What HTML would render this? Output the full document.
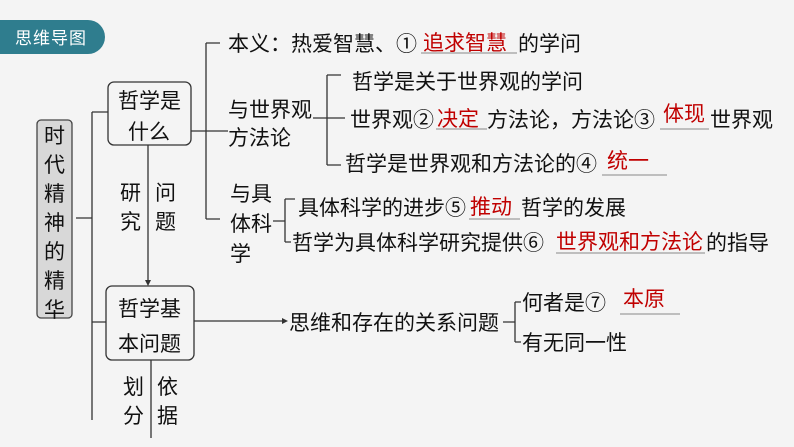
<!DOCTYPE html>
<html><head><meta charset="utf-8"><style>
html,body{margin:0;padding:0;background:#f4f4f4;}
svg{display:block;font-family:"Liberation Sans","Noto Sans CJK SC",sans-serif;}
.t{font-size:21px;fill:#111;}
.r{fill:#c00000;}
</style></head><body>
<svg width="794" height="447" viewBox="0 0 794 447">
<rect width="794" height="447" fill="#f4f4f4"/>
<path d="M0 20 H88 A17 17 0 0 1 88 54 H0 Z" fill="#2f7d8e"/>
<text x="15" y="44" font-size="17" fill="#fff" letter-spacing="1">思维导图</text>
<g stroke="#333" stroke-width="1.3" fill="none">
<rect x="37" y="120" width="35" height="198" rx="4" fill="#d8d8d8" stroke="#444"/>
<rect x="108" y="82" width="83" height="63" rx="6"/>
<rect x="106" y="286" width="88" height="74" rx="6"/>
<path d="M76 218 H92 M92 112 V420 M92 112 H108 M92 322 H106"/>
<path d="M148 145 V282"/>
<path d="M151 360 V438"/>
<path d="M191 131 H228 M206 43 V219 M206 43 H220 M206 219 H220"/>
<path d="M313 118 H345 M327 75 V165 M327 75 H341 M327 165 H341"/>
<path d="M273 221 H285 M285 199 V242 M285 199 H295 M285 242 H291"/>
<path d="M194 321 H283"/>
<path d="M503 322 H515 M515 302 V342 M515 302 H521 M515 342 H521"/>
</g>
<path d="M148 286 l-3 -6 h6 z M288 321 l-6 -3 v6 z" fill="#333"/>
<g class="t" font-size="22">
<text x="44" y="143">时</text><text x="44" y="172">代</text><text x="44" y="201">精</text><text x="44" y="230">神</text><text x="44" y="259">的</text><text x="44" y="288">精</text><text x="44" y="317">华</text>
<text x="118" y="108">哲学是</text><text x="128" y="139">什么</text>
<text x="118" y="316">哲学基</text><text x="118" y="351">本问题</text>
</g>
<g class="t" font-size="20">
<text x="120" y="200">研</text><text x="120" y="229">究</text>
<text x="155" y="200">问</text><text x="155" y="229">题</text>
<text x="123" y="394">划</text><text x="123" y="423">分</text>
<text x="157" y="394">依</text><text x="157" y="423">据</text>
</g>
<g class="t">
<text x="228" y="51">本义：热爱智慧、①</text>
<text x="423" y="50" class="r">追求智慧</text>
<text x="518" y="51">的学问</text>
<text x="228" y="117">与世界观</text><text x="228" y="145">方法论</text>
<text x="352" y="89">哲学是关于世界观的学问</text>
<text x="350" y="127">世界观②</text><text x="437" y="126" class="r">决定</text><text x="487" y="127">方法论，方法论③</text><text x="663" y="121" class="r">体现</text><text x="710" y="127">世界观</text>
<text x="345" y="171">哲学是世界观和方法论的④</text><text x="607" y="168" class="r">统一</text>
<text x="230" y="201">与具</text><text x="230" y="231">体科</text><text x="230" y="261">学</text>
<text x="298" y="215">具体科学的进步⑤</text><text x="470" y="214" class="r">推动</text><text x="521" y="215">哲学的发展</text>
<text x="292" y="250">哲学为具体科学研究提供⑥</text><text x="556" y="249" class="r">世界观和方法论</text><text x="706" y="250">的指导</text>
<text x="289" y="330">思维和存在的关系问题</text>
<text x="522" y="310">何者是⑦</text><text x="623" y="306" class="r">本原</text>
<text x="522" y="350">有无同一性</text>
</g>
<g stroke="#888" stroke-width="1">
<path d="M421 53 H517 M436 129 H487 M660 129 H709 M602 175 H667 M469 219 H520 M556 253 H705 M620 314 H680"/>
</g>
</svg>
</body></html>
